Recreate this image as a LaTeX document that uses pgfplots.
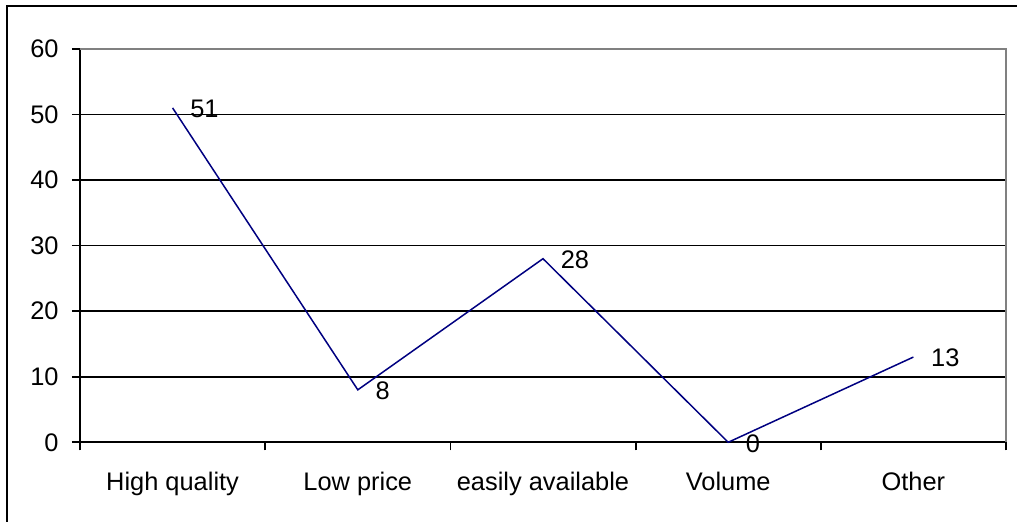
\documentclass[border=0pt]{standalone}
\usepackage{fontspec}
\setmainfont{Liberation Sans}
\usepackage{pgfplots}
\pgfplotsset{compat=1.18}
\definecolor{navyline}{RGB}{0,0,128}
\definecolor{plotgray}{RGB}{128,128,128}
\begin{document}
\fontsize{12.7}{15}\selectfont
\begin{tikzpicture}
\useasboundingbox (0pt,0pt) rectangle (508.5pt,261pt);
\draw[line width=1pt] (3.5pt,-5pt) -- (3.5pt,258pt) -- (515pt,258pt);
\begin{axis}[
  scale only axis,
  width=463pt, height=196.7pt,
  anchor=south west, at={(40pt,39.85pt)},
  xmin=0, xmax=5, ymin=0, ymax=60,
  axis x line*=bottom, axis y line*=left,
  axis line style={black, line width=0.9pt},
  /pgf/number format/assume math mode=true,
  ytick={0,10,...,60},
  ymajorgrids,
  grid style={black, line width=0.9pt},
  xtick={0,1,2,3,4,5},
  xticklabels={},
  extra x ticks={0.5,1.5,2.5,3.5,4.5},
  extra x tick labels={High quality,Low price,easily available,Volume,Other},
  extra x tick style={major tick length=0pt, grid=none, tick label style={yshift=-10.5pt}},
  tick align=outside,
  major tick length=4pt,
  tick style={black, line width=0.9pt},
  yticklabel style={xshift=-2.3pt},
  ticklabel style={font=\fontsize{12.7}{15}\selectfont},
  clip=false,
]
\addplot[color=navyline, line width=0.75pt, mark=none,
  nodes near coords,
  every node near coord/.append style={anchor=west, xshift=8.5pt, yshift=-0.5pt, inner sep=0pt, black, font=\fontsize{12.7}{15}\selectfont}]
  coordinates {(0.5,51) (1.5,8) (2.5,28) (3.5,0) (4.5,13)};
\draw[plotgray, line width=0.9pt] (rel axis cs:0,1) -- (rel axis cs:1,1) -- (rel axis cs:1,0);
\end{axis}
\end{tikzpicture}
\end{document}
